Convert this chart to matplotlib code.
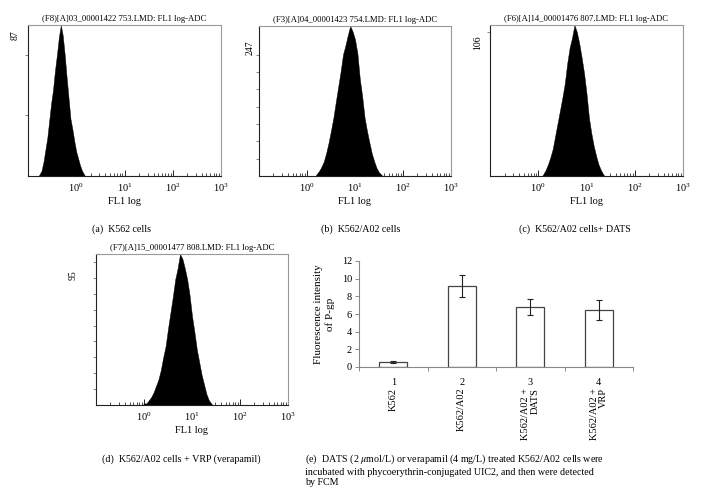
import numpy as np
import matplotlib
matplotlib.use("Agg")
from matplotlib import pyplot as plt
from matplotlib.ticker import LogLocator, LogFormatterSciNotation, NullFormatter, FixedLocator

plt.rcParams['font.family'] = ['Liberation Serif', 'DejaVu Serif']
plt.rcParams['mathtext.fontset'] = 'stix'

# ---- histogram data (counts at evenly spaced log10 channel positions) ----
hist_a_start = -0.76
hist_a_step = 0.04
hist_a_counts = [1, 3, 8, 15, 22, 32, 42, 50, 61, 70, 80, 87, 81, 70, 57, 45,
                 33, 27, 20, 14, 10, 6, 3, 1]

hist_b_start = 0.20
hist_b_step = 0.05
hist_b_counts = [3, 8, 15, 24, 38, 55, 75, 96, 122, 147, 172, 200, 215, 232, 247,
                 238, 225, 202, 160, 131, 96, 74, 55, 37, 24, 13, 6, 2]

hist_c_start = 0.10
hist_c_step = 0.05
hist_c_counts = [1, 4, 8, 13, 19, 28, 37, 46, 55, 65, 79, 90, 97, 106, 101, 93,
                 83, 72, 58, 41, 30, 21, 14, 8, 4, 1]

hist_d_start = 0.00
hist_d_step = 0.05
hist_d_counts = [1, 1, 3, 5, 8, 12, 16, 22, 30, 37, 48, 58, 68, 79, 86, 95, 92,
                 86, 79, 69, 56, 46, 35, 27, 19, 13, 7, 3, 1]

titles = ["(F8)[A]03_00001422 753.LMD: FL1 log-ADC",
          "(F3)[A]04_00001423 754.LMD: FL1 log-ADC",
          "(F6)[A]14_00001476 807.LMD: FL1 log-ADC",
          "(F7)[A]15_00001477 808.LMD: FL1 log-ADC"]
captions = ["(a)  K562 cells", "(b)  K562/A02 cells", "(c)  K562/A02 cells+ DATS",
            "(d)  K562/A02 cells + VRP (verapamil)"]
y_tick_vals = [[35, 70],
               [28.5, 57, 85.5, 114, 142.5, 171, 199.5],
               [101],
               [10, 20, 30, 40, 50, 60, 70, 80, 90]]

# ---- bar chart data ----
bar_numbers = ["1", "2", "3", "4"]
bar_names = ["K562", "K562/A02", "K562/A02 +\nDATS", "K562/A02 +\nVRP"]
bar_values = [0.55, 9.2, 6.8, 6.45]
bar_errors = [0.08, 1.25, 0.9, 1.15]

W, H = 711, 500
fig = plt.figure(figsize=(W / 100, H / 100), dpi=100)


def px_axes(left, top, right, bottom):
    return fig.add_axes([left / W, 1 - bottom / H, (right - left) / W, (bottom - top) / H])


def draw_hist(ax, start, step, counts, title, yticks):
    n = len(counts)
    pos = 10 ** (start + step * np.arange(n))
    xs = np.concatenate([[pos[0] / 10 ** (step / 2)], pos, [pos[-1] * 10 ** (step / 2)]])
    ys = np.concatenate([[0], counts, [0]])
    ax.fill_between(xs, 0, ys, color='black', linewidth=0.3, edgecolor='black')
    ax.set_xscale('log')
    ax.set_xlim(0.1, 1000)
    ax.set_ylim(0, max(counts))
    ax.xaxis.set_major_locator(FixedLocator([1, 10, 100, 1000]))
    ax.xaxis.set_major_formatter(LogFormatterSciNotation())
    ax.xaxis.set_minor_locator(LogLocator(subs=np.arange(2, 10), numticks=20))
    ax.xaxis.set_minor_formatter(NullFormatter())
    ax.tick_params(axis='x', which='major', direction='in', length=4, width=0.6,
                   labelsize=7.5, pad=4)
    ax.tick_params(axis='x', which='minor', direction='in', length=2.5, width=0.5)
    ax.set_yticks(yticks)
    ax.set_yticklabels([])
    ax.tick_params(axis='y', direction='out', length=2.5, width=0.5, color='#555555')
    for s in ['top', 'right']:
        ax.spines[s].set_color('#999999')
        ax.spines[s].set_linewidth(0.8)
    for s in ['left', 'bottom']:
        ax.spines[s].set_color('#222222')
        ax.spines[s].set_linewidth(0.8)
    ax.set_title(title, fontsize=6.2, pad=3)
    ax.set_xlabel("FL1 log", fontsize=7.5, labelpad=2)


hist_boxes = [(28, 25, 221, 176), (259, 26, 451, 176), (490, 25, 683, 176), (96, 254, 288, 405)]
hist_starts = [hist_a_start, hist_b_start, hist_c_start, hist_d_start]
hist_steps = [hist_a_step, hist_b_step, hist_c_step, hist_d_step]
hist_data = [hist_a_counts, hist_b_counts, hist_c_counts, hist_d_counts]
peak_pos = [(15, 35), (250, 48), (478, 43), (73, 275)]
caption_pos = [(121, 229), (361, 229), (575, 229), (181, 459)]

for i in range(4):
    ax = px_axes(*hist_boxes[i])
    draw_hist(ax, hist_starts[i], hist_steps[i], hist_data[i], titles[i], y_tick_vals[i])
    px, py = peak_pos[i]
    fig.text(px / W, 1 - py / H, str(max(hist_data[i])), rotation=90,
             ha='center', va='center', fontsize=7)
    cx, cy = caption_pos[i]
    fig.text(cx / W, 1 - cy / H, captions[i], ha='center', va='center', fontsize=7.2)

# ---- panel (e): bar chart ----
axe = px_axes(359, 261, 633, 367)
x = np.arange(len(bar_values))
axe.bar(x, bar_values, width=0.41, color='white', edgecolor='#444444', linewidth=0.9)
axe.errorbar(x, bar_values, yerr=bar_errors, fmt='none', ecolor='#222222',
             elinewidth=0.8, capsize=2.2, capthick=0.8)
axe.set_xlim(-0.5, 3.5)
axe.set_ylim(0, 12)
axe.set_yticks(np.arange(0, 13, 2))
axe.tick_params(axis='y', direction='out', length=3, width=0.6, color='#777777',
                labelsize=7.5, pad=2)
axe.set_xticks(x)
axe.set_xticklabels(bar_numbers)
axe.set_xticks(np.arange(-0.5, 4, 1), minor=True)
axe.tick_params(axis='x', which='major', length=0, labelsize=7.5, pad=8)
axe.tick_params(axis='x', which='minor', direction='out', length=3, width=0.6, color='#777777')
for s in ['top', 'right']:
    axe.spines[s].set_visible(False)
for s in ['left', 'bottom']:
    axe.spines[s].set_color('#888888')
    axe.spines[s].set_linewidth(0.8)
axe.set_ylabel("Fluorescence intensity\nof P-gp", fontsize=8, linespacing=1.25, labelpad=5)
for xi, name in zip(x, bar_names):
    axe.annotate(name, xy=(xi, 0), xycoords=('data', 'axes fraction'),
                 xytext=(0, -15), textcoords='offset points', rotation=90,
                 ha='center', va='top', multialignment='right', fontsize=7.5,
                 linespacing=1.0)

fig.text(305 / W, 1 - 453 / H,
         "(e)  DATS (2 $\\mu$mol/L) or verapamil (4 mg/L) treated K562/A02 cells were\n"
         "incubated with phycoerythrin-conjugated UIC2, and then were detected\n"
         "by FCM",
         ha='left', va='top', fontsize=7.2, linespacing=1.15)

fig.savefig("out.png", dpi=100)
